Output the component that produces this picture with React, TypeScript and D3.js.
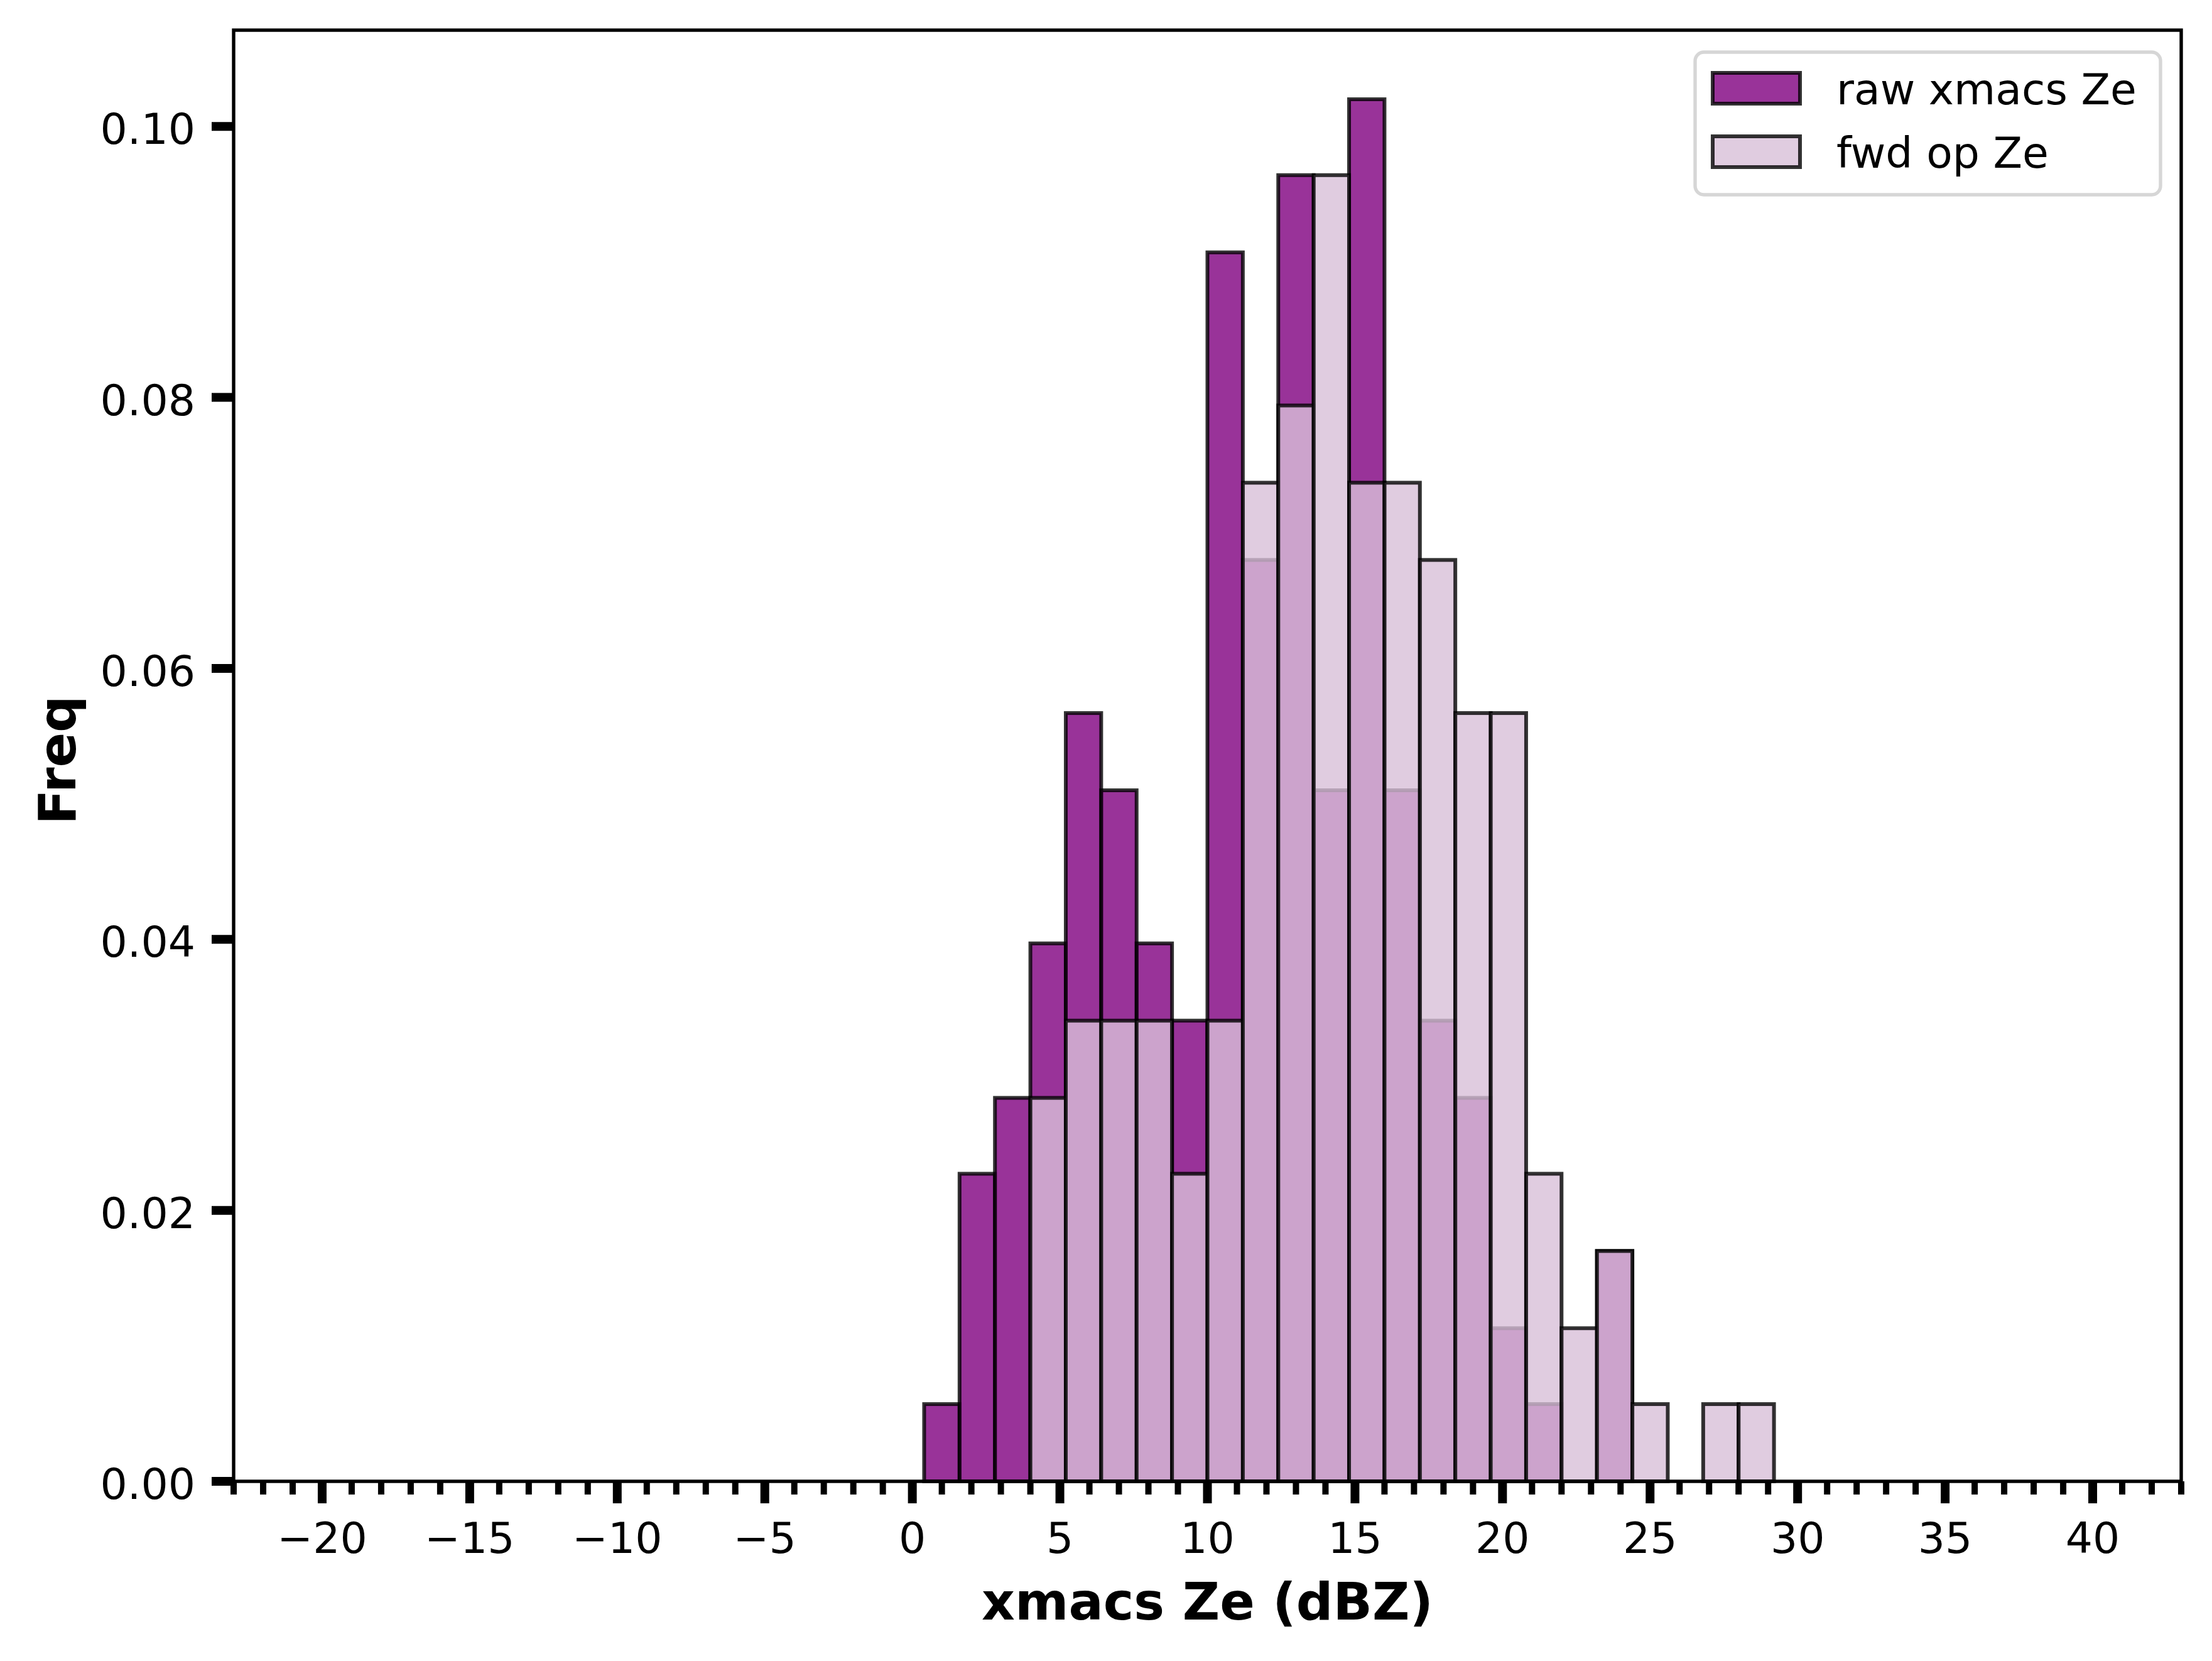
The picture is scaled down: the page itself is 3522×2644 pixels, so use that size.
import * as d3 from 'd3';

// bin edges in dBZ (shared by both histograms)
const binEdges = [
  0.4, 1.6, 2.8, 4.0, 5.2, 6.4, 7.6, 8.8, 10.0, 11.2, 12.4, 13.6, 14.8,
  16.0, 17.2, 18.4, 19.6, 20.8, 22.0, 23.2, 24.4, 25.6, 26.8, 28.0, 29.2,
];

// density per bin
const rawFreq = [
  0.0057, 0.0227, 0.0283, 0.0397, 0.0567, 0.051, 0.0397, 0.034, 0.0907, 0.068,
  0.0964, 0.051, 0.102, 0.051, 0.034, 0.0283, 0.0113, 0.0057, 0, 0.017,
];
const fwdFreq = [
  0, 0, 0, 0.0283, 0.034, 0.034, 0.034, 0.0227, 0.034, 0.0737, 0.0794, 0.0964,
  0.0737, 0.0737, 0.068, 0.0567, 0.0567, 0.0227, 0.0113, 0.017, 0.0057, 0,
  0.0057, 0.0057,
];

const xMajorTicks = [-20, -15, -10, -5, 0, 5, 10, 15, 20, 25, 30, 35, 40];
const yTicks = [0, 0.02, 0.04, 0.06, 0.08, 0.1];

const series = [
  { name: 'raw xmacs Ze', values: rawFreq, color: 'purple' },
  { name: 'fwd op Ze', values: fwdFreq, color: 'thistle' },
];

const W = 3522;
const H = 2644;
const left = 372;
const right = 3473;
const top = 48;
const bottom = 2358;
const font = 'DejaVu Sans, sans-serif';
const spineW = 5.4;

export default function App() {
  const x = d3.scaleLinear().domain([-23, 43]).range([left, right]);
  const yMax = (d3.max(rawFreq.concat(fwdFreq)) as number) * 1.05;
  const y = d3.scaleLinear().domain([0, yMax]).range([bottom, top]);

  const minorTicks = d3.range(-23, 44).filter((v) => v % 5 !== 0);
  const fmtY = d3.format('.2f');
  const fmtX = (v: number) => (v < 0 ? '\u2212' + Math.abs(v) : String(v));

  return (
    <svg
      width={W}
      height={H}
      style={{ position: 'absolute', left: 0, top: 0, background: '#fff' }}
      fontFamily={font}
    >
      <rect x={0} y={0} width={W} height={H} fill="#fff" />

      {series.map((s) => (
        <g key={s.name}>
          {s.values.map((v, i) =>
            v > 0 ? (
              <rect
                key={i}
                x={x(binEdges[i])}
                y={y(v)}
                width={x(binEdges[i + 1]) - x(binEdges[i])}
                height={bottom - y(v)}
                fill={s.color}
                fillOpacity={0.8}
                stroke="#000"
                strokeOpacity={0.8}
                strokeWidth={6}
              />
            ) : null
          )}
        </g>
      ))}

      {/* x ticks */}
      {minorTicks.map((t) => (
        <line key={'m' + t} x1={x(t)} x2={x(t)} y1={bottom} y2={bottom + 21} stroke="#000" strokeWidth={10} />
      ))}
      {xMajorTicks.map((t) => (
        <g key={'x' + t}>
          <line x1={x(t)} x2={x(t)} y1={bottom} y2={bottom + 35} stroke="#000" strokeWidth={14} />
          <text x={x(t)} y={2472} textAnchor="middle" fontSize={68}>
            {fmtX(t)}
          </text>
        </g>
      ))}

      {/* y ticks */}
      {yTicks.map((t) => (
        <g key={'y' + t}>
          <line x1={left - 35} x2={left} y1={y(t)} y2={y(t)} stroke="#000" strokeWidth={14} />
          <text x={311} y={y(t) + 28} textAnchor="end" fontSize={68}>
            {fmtY(t)}
          </text>
        </g>
      ))}

      {/* spines */}
      <rect x={left} y={top} width={right - left} height={bottom - top} fill="none" stroke="#000" strokeWidth={spineW} />

      {/* axis labels */}
      <text x={(left + right) / 2} y={2578} textAnchor="middle" fontSize={82} fontWeight="bold">
        xmacs Ze (dBZ)
      </text>
      <text
        transform={`translate(120, 1210) rotate(-90)`}
        textAnchor="middle"
        fontSize={82}
        fontWeight="bold"
      >
        Freq
      </text>

      {/* legend */}
      <g>
        <rect x={2699} y={83} width={741} height={227} rx={14} fill="#fff" fillOpacity={0.8} stroke="#ccc" strokeOpacity={0.8} strokeWidth={5.4} />
        {series.map((s, i) => (
          <g key={'l' + s.name} transform={`translate(0, ${i * 101})`}>
            <rect
              x={2727}
              y={116}
              width={139}
              height={49}
              fill={s.color}
              fillOpacity={0.8}
              stroke="#000"
              strokeOpacity={0.8}
              strokeWidth={6}
            />
            <text x={2924} y={166} fontSize={68}>
              {s.name}
            </text>
          </g>
        ))}
      </g>
    </svg>
  );
}
